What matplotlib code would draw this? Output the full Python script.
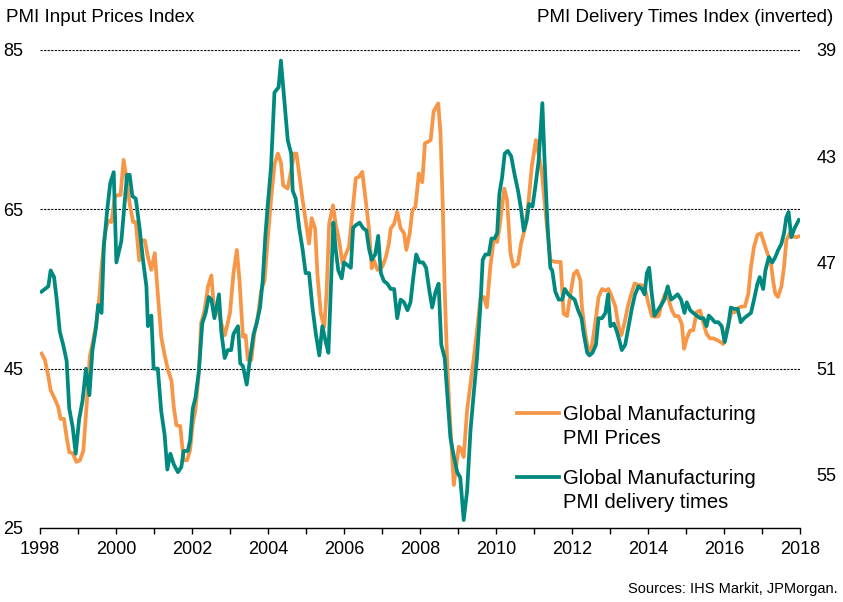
import matplotlib
matplotlib.use("Agg")
import matplotlib.pyplot as plt
from matplotlib.lines import Line2D
from matplotlib.ticker import FixedLocator

plt.rcParams['font.family'] = ['Liberation Sans', 'DejaVu Sans']

# Global Manufacturing PMI Prices (left axis), sampled from the chart
prices_year = [1998.04, 1998.13, 1998.22, 1998.28, 1998.39, 1998.48, 1998.54, 1998.63, 1998.70, 1998.77,
               1998.86, 1998.96, 1999.05, 1999.14, 1999.23, 1999.31, 1999.40, 1999.49, 1999.57, 1999.62,
               1999.71, 1999.79, 1999.88, 1999.97, 2000.06, 2000.12, 2000.20, 2000.28, 2000.36, 2000.45,
               2000.52, 2000.61, 2000.67, 2000.76, 2000.84, 2000.93, 2001.02, 2001.10, 2001.19, 2001.28,
               2001.37, 2001.46, 2001.52, 2001.59, 2001.69, 2001.78, 2001.87, 2001.95, 2002.02, 2002.09,
               2002.18, 2002.24, 2002.33, 2002.42, 2002.51, 2002.59, 2002.68, 2002.77, 2002.86, 2002.94,
               2003.00, 2003.09, 2003.18, 2003.25, 2003.34, 2003.41, 2003.47, 2003.56, 2003.64, 2003.73,
               2003.82, 2003.91, 2003.99, 2004.08, 2004.17, 2004.26, 2004.34, 2004.40, 2004.52, 2004.61,
               2004.69, 2004.75, 2004.82, 2004.91, 2004.99, 2005.08, 2005.15, 2005.24, 2005.30, 2005.39,
               2005.48, 2005.54, 2005.61, 2005.71, 2005.78, 2005.87, 2005.96, 2006.05, 2006.13, 2006.22,
               2006.31, 2006.40, 2006.48, 2006.57, 2006.66, 2006.73, 2006.79, 2006.88, 2007.01, 2007.10,
               2007.18, 2007.23, 2007.32, 2007.40, 2007.49, 2007.58, 2007.64, 2007.73, 2007.80, 2007.88,
               2007.97, 2008.06, 2008.13, 2008.22, 2008.28, 2008.36, 2008.48, 2008.54, 2008.60, 2008.65,
               2008.71, 2008.77, 2008.83, 2008.89, 2008.95, 2009.02, 2009.07, 2009.15, 2009.24, 2009.33,
               2009.41, 2009.50, 2009.59, 2009.68, 2009.76, 2009.85, 2009.94, 2010.03, 2010.09, 2010.16,
               2010.22, 2010.29, 2010.38, 2010.46, 2010.58, 2010.66, 2010.77, 2010.86, 2010.94, 2011.05,
               2011.12, 2011.21, 2011.29, 2011.38, 2011.43, 2011.56, 2011.70, 2011.78, 2011.87, 2011.96,
               2012.05, 2012.13, 2012.22, 2012.26, 2012.35, 2012.44, 2012.53, 2012.61, 2012.70, 2012.79,
               2012.88, 2012.96, 2013.05, 2013.14, 2013.23, 2013.30, 2013.38, 2013.47, 2013.56, 2013.65,
               2013.73, 2013.82, 2013.91, 2014.01, 2014.10, 2014.19, 2014.28, 2014.36, 2014.45, 2014.54,
               2014.63, 2014.71, 2014.80, 2014.89, 2014.95, 2015.02, 2015.11, 2015.19, 2015.28, 2015.37,
               2015.46, 2015.54, 2015.63, 2015.72, 2015.81, 2015.89, 2015.98, 2016.07, 2016.20, 2016.29,
               2016.37, 2016.46, 2016.55, 2016.64, 2016.71, 2016.79, 2016.88, 2016.97, 2017.06, 2017.14,
               2017.23, 2017.29, 2017.35, 2017.42, 2017.51, 2017.58, 2017.64, 2017.73, 2017.82, 2017.91,
               2017.97]
prices_val = [46.9, 46.1, 44.0, 42.3, 41.2, 40.2, 38.7, 38.7, 36.4, 34.5,
              34.4, 33.3, 33.5, 34.7, 40.6, 46.5, 48.6, 50.9, 54.4, 57.8,
              62.0, 63.6, 63.4, 66.6, 66.8, 66.8, 71.2, 68.7, 65.7, 63.4,
              63.4, 58.6, 61.1, 61.1, 59.0, 57.4, 59.5, 54.4, 49.0, 46.7,
              44.8, 43.5, 40.2, 37.9, 37.8, 33.5, 33.5, 34.8, 38.1, 39.8,
              44.4, 50.7, 52.3, 55.3, 56.7, 51.9, 52.6, 50.7, 49.2, 50.7,
              52.0, 56.9, 59.9, 56.1, 49.0, 49.2, 46.1, 46.1, 49.4, 51.5,
              54.8, 56.1, 61.1, 66.2, 70.6, 72.0, 70.9, 68.0, 67.6, 69.9,
              72.0, 72.0, 69.5, 66.2, 63.6, 60.7, 63.9, 62.6, 56.9, 51.9,
              50.2, 54.4, 63.2, 65.5, 63.2, 61.1, 58.2, 59.4, 60.3, 64.5,
              68.9, 69.1, 69.7, 66.2, 62.4, 57.6, 58.6, 57.4, 57.8, 59.0,
              60.7, 62.6, 63.2, 64.7, 62.6, 62.0, 59.9, 62.0, 64.9, 65.3,
              69.5, 68.4, 73.3, 73.5, 73.7, 77.3, 78.3, 74.5, 65.3, 54.8,
              46.5, 40.2, 35.2, 30.4, 32.7, 35.2, 35.0, 33.9, 39.8, 43.1,
              46.1, 49.8, 53.8, 54.0, 52.7, 57.8, 61.1, 60.9, 62.7, 65.3,
              67.6, 66.2, 59.5, 57.8, 58.2, 60.7, 62.8, 66.2, 70.3, 73.7,
              72.0, 69.5, 65.3, 61.1, 58.6, 58.4, 58.4, 51.9, 51.6, 54.4,
              56.9, 57.3, 56.1, 52.8, 49.4, 46.9, 48.0, 50.7, 54.0, 55.0,
              54.8, 55.0, 54.0, 52.8, 50.2, 49.2, 50.7, 52.8, 54.4, 55.7,
              55.5, 55.5, 55.3, 53.2, 51.6, 51.5, 51.6, 53.2, 54.4, 53.7,
              52.3, 51.6, 51.6, 50.6, 47.5, 48.8, 49.8, 49.8, 52.1, 52.3,
              50.7, 49.4, 48.8, 48.8, 48.6, 48.4, 48.1, 49.8, 52.1, 52.1,
              52.6, 52.8, 52.8, 54.4, 57.8, 60.3, 61.8, 62.0, 60.7, 59.5,
              58.4, 56.1, 54.4, 54.0, 55.3, 57.8, 61.1, 62.0, 61.6, 61.5,
              61.6]

# Global Manufacturing PMI delivery times (right axis, inverted)
deliv_year = [1998.04, 1998.13, 1998.22, 1998.28, 1998.37, 1998.44, 1998.52, 1998.61, 1998.70, 1998.77,
              1998.86, 1998.94, 1999.03, 1999.12, 1999.21, 1999.30, 1999.38, 1999.47, 1999.53, 1999.62,
              1999.68, 1999.77, 1999.85, 1999.94, 2000.01, 2000.14, 2000.23, 2000.29, 2000.36, 2000.43,
              2000.52, 2000.62, 2000.71, 2000.80, 2000.84, 2000.93, 2000.99, 2001.10, 2001.19, 2001.28,
              2001.35, 2001.43, 2001.52, 2001.63, 2001.72, 2001.78, 2001.89, 2001.95, 2002.02, 2002.09,
              2002.18, 2002.27, 2002.36, 2002.44, 2002.51, 2002.59, 2002.71, 2002.77, 2002.86, 2002.94,
              2003.03, 2003.09, 2003.21, 2003.27, 2003.34, 2003.44, 2003.53, 2003.62, 2003.70, 2003.79,
              2003.86, 2003.93, 2003.99, 2004.08, 2004.17, 2004.28, 2004.34, 2004.43, 2004.52, 2004.61,
              2004.65, 2004.73, 2004.82, 2004.91, 2004.99, 2005.08, 2005.17, 2005.26, 2005.35, 2005.43,
              2005.52, 2005.59, 2005.65, 2005.72, 2005.78, 2005.85, 2005.94, 2006.00, 2006.09, 2006.18,
              2006.24, 2006.31, 2006.41, 2006.50, 2006.59, 2006.66, 2006.73, 2006.82, 2006.90, 2006.97,
              2007.05, 2007.14, 2007.23, 2007.32, 2007.40, 2007.49, 2007.58, 2007.67, 2007.75, 2007.82,
              2007.90, 2007.99, 2008.08, 2008.16, 2008.25, 2008.32, 2008.41, 2008.49, 2008.56, 2008.65,
              2008.71, 2008.80, 2008.89, 2008.98, 2009.06, 2009.15, 2009.24, 2009.33, 2009.41, 2009.50,
              2009.59, 2009.65, 2009.72, 2009.81, 2009.88, 2009.96, 2010.03, 2010.09, 2010.16, 2010.23,
              2010.31, 2010.40, 2010.49, 2010.58, 2010.66, 2010.73, 2010.81, 2010.87, 2010.96, 2011.03,
              2011.12, 2011.22, 2011.28, 2011.36, 2011.43, 2011.48, 2011.56, 2011.65, 2011.74, 2011.81,
              2011.90, 2011.98, 2012.07, 2012.16, 2012.25, 2012.31, 2012.40, 2012.46, 2012.54, 2012.63,
              2012.70, 2012.79, 2012.88, 2012.95, 2013.01, 2013.10, 2013.18, 2013.24, 2013.31, 2013.40,
              2013.49, 2013.58, 2013.66, 2013.75, 2013.84, 2013.91, 2013.97, 2014.03, 2014.10, 2014.17,
              2014.26, 2014.35, 2014.43, 2014.52, 2014.61, 2014.70, 2014.78, 2014.87, 2014.96, 2015.02,
              2015.11, 2015.19, 2015.28, 2015.37, 2015.46, 2015.54, 2015.60, 2015.67, 2015.76, 2015.85,
              2015.94, 2016.02, 2016.11, 2016.18, 2016.27, 2016.36, 2016.44, 2016.53, 2016.62, 2016.71,
              2016.79, 2016.88, 2016.94, 2017.03, 2017.09, 2017.18, 2017.27, 2017.35, 2017.42, 2017.51,
              2017.58, 2017.64, 2017.70, 2017.77, 2017.86, 2017.97]
deliv_val = [48.1, 48.0, 47.9, 47.3, 47.55, 48.4, 49.6, 50.1, 50.7, 52.5,
             53.2, 54.2, 52.9, 52.2, 51.0, 52.0, 50.3, 49.5, 48.6, 48.9,
             46.4, 45.0, 44.0, 43.6, 47.0, 46.2, 44.7, 43.7, 43.7, 44.5,
             44.6, 45.7, 46.9, 47.9, 49.4, 49.0, 51.0, 51.0, 52.6, 53.5,
             54.8, 54.2, 54.6, 54.9, 54.7, 54.1, 54.1, 53.7, 52.5, 52.1,
             51.1, 49.3, 48.9, 48.3, 48.4, 49.1, 48.2, 49.6, 50.6, 50.3,
             50.3, 49.7, 49.4, 50.8, 50.9, 51.6, 50.6, 49.7, 49.3, 48.7,
             47.7, 46.0, 44.9, 43.4, 40.6, 40.4, 39.4, 40.9, 42.4, 42.9,
             44.3, 44.6, 45.7, 46.5, 47.4, 47.4, 48.7, 49.7, 50.5, 49.4,
             50.0, 50.4, 48.1, 45.5, 46.5, 47.3, 47.6, 47.0, 47.1, 47.2,
             45.7, 45.6, 45.5, 45.7, 45.8, 46.5, 46.9, 46.7, 46.0, 47.4,
             47.7, 47.8, 48.0, 48.0, 49.1, 48.4, 48.5, 48.8, 48.5, 47.6,
             46.7, 47.0, 47.0, 47.2, 48.1, 48.7, 48.1, 47.8, 50.1, 50.6,
             51.8, 53.6, 54.3, 54.9, 55.1, 56.7, 55.6, 53.3, 52.0, 50.6,
             48.6, 46.9, 46.7, 46.7, 46.1, 46.1, 45.9, 44.4, 43.8, 42.9,
             42.8, 43.0, 43.7, 44.3, 45.0, 45.8, 45.4, 44.8, 44.9, 44.2,
             43.2, 41.0, 43.2, 45.7, 47.2, 47.3, 48.1, 48.4, 48.4, 48.0,
             48.2, 48.3, 48.4, 48.8, 49.1, 49.7, 50.4, 50.5, 50.4, 50.1,
             49.1, 49.1, 48.9, 48.2, 49.4, 49.3, 49.6, 49.9, 50.3, 50.1,
             49.4, 48.7, 48.2, 47.9, 48.0, 48.2, 47.4, 47.2, 48.2, 49.0,
             48.8, 48.6, 48.4, 47.9, 48.4, 48.3, 48.2, 48.4, 48.9, 48.5,
             48.8, 48.9, 49.0, 49.1, 49.1, 49.4, 49.0, 49.1, 49.25, 49.25,
             49.4, 50.0, 49.4, 48.7, 48.75, 48.75, 49.25, 49.1, 49.0, 48.9,
             48.4, 47.8, 47.55, 48.0, 47.3, 46.8, 47.0, 46.8, 46.55, 46.3,
             45.9, 45.3, 45.1, 46.05, 45.7, 45.4]

left_ticks = [25, 45, 65, 85]
right_ticks = [39, 43, 47, 51, 55]
year_labels = [str(y) if y % 2 == 0 else '' for y in range(1998, 2019)]

ORANGE = '#F79646'
TEAL = '#00897E'

W, H = 843, 602
fig = plt.figure(figsize=(W / 100, H / 100), dpi=100)
ax = fig.add_axes([40 / W, 1 - 528 / H, 760 / W, 478 / H])
ax2 = ax.twinx()


def fx(px):
    return px / W


def fy(py):
    return 1 - py / H


ax.plot(prices_year, prices_val, color=ORANGE, lw=2.7, solid_joinstyle='round')
ax2.plot(deliv_year, deliv_val, color=TEAL, lw=2.7, solid_joinstyle='round')

ax.set_xlim(1998, 2018)
ax.set_ylim(25, 85)
ax2.set_ylim(57, 39)

ax.yaxis.set_major_locator(FixedLocator(left_ticks))
ax2.yaxis.set_major_locator(FixedLocator(right_ticks))
ax.xaxis.set_major_locator(FixedLocator(list(range(1998, 2019))))
ax.set_xticklabels(year_labels)

for a in (ax, ax2):
    for s in ('top', 'left', 'right'):
        a.spines[s].set_visible(False)
ax2.spines['bottom'].set_visible(False)
ax.spines['bottom'].set_linewidth(1.0)

ax.tick_params(axis='x', direction='out', length=4, width=1, labelsize=13, pad=5)
ax.tick_params(axis='y', length=0, labelsize=13, pad=12)
ax2.tick_params(axis='y', length=0, labelsize=13, pad=12)

ax.grid(axis='y', color='black', linestyle=(0, (2, 1.2)), linewidth=0.8)
ax.set_axisbelow(True)

fig.text(fx(6), fy(17), 'PMI Input Prices Index', fontsize=13.5, ha='left', va='center')
fig.text(fx(833), fy(17), 'PMI Delivery Times Index (inverted)', fontsize=13.5, ha='right', va='center')
fig.text(fx(838), fy(589), 'Sources: IHS Markit, JPMorgan.', fontsize=10.5, ha='right', va='center')

# legend, handle aligned with first text line
legend_items = [(ORANGE, 413, ['Global Manufacturing', 'PMI Prices']),
                (TEAL, 477, ['Global Manufacturing', 'PMI delivery times'])]
for col, yy, lines in legend_items:
    fig.add_artist(Line2D([fx(517), fx(559)], [fy(yy), fy(yy)], color=col, lw=2.7,
                          transform=fig.transFigure))
    for i, txt in enumerate(lines):
        fig.text(fx(563), fy(yy + 6.5 + i * 24.5), txt, fontsize=14.6, ha='left', va='baseline')

fig.savefig('out.png', dpi=100)
